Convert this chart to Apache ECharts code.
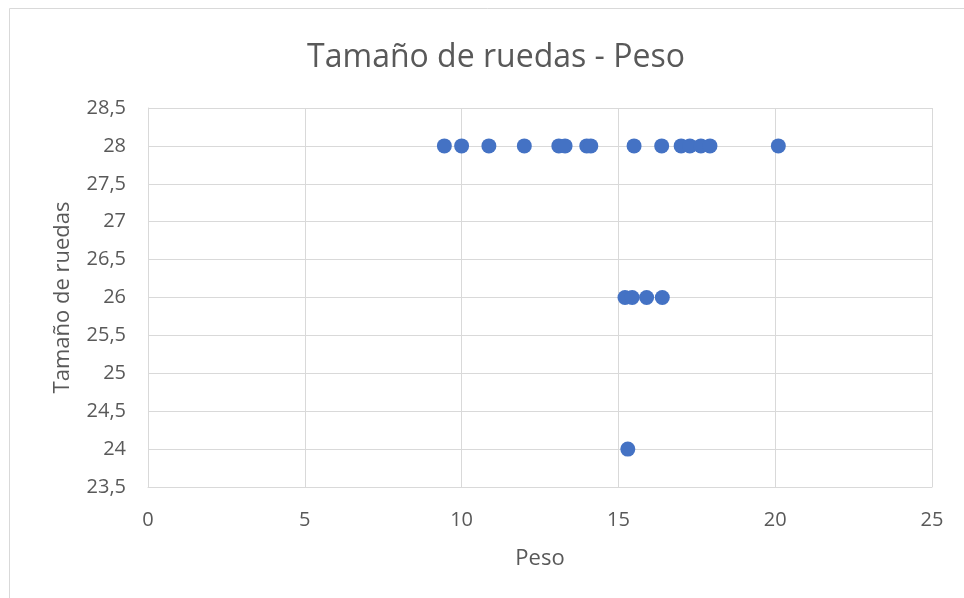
<!DOCTYPE html>
<html>
<head>
<meta charset="utf-8">
<script src="https://cdn.jsdelivr.net/npm/echarts@6/dist/echarts.min.js"></script>
<style>
  html, body { margin: 0; padding: 0; background: #ffffff; }
  #chart { width: 964px; height: 598px; }
</style>
</head>
<body>
<div id="chart"></div>
<script>
// Weight (Peso) and wheel size (Tamaño de ruedas) per bike
const peso = [
  9.45, 10.0, 10.87, 12.0, 13.1, 13.3, 13.99, 14.12, 15.5, 16.38, 17.0, 17.28, 17.63, 17.92, 20.1,
  15.21, 15.44, 15.9, 16.4,
  15.3
];
const ruedas = [
  28, 28, 28, 28, 28, 28, 28, 28, 28, 28, 28, 28, 28, 28, 28,
  26, 26, 26, 26,
  24
];
const titleText = 'Tamaño de ruedas - Peso';
const xName = 'Peso';
const yName = 'Tamaño de ruedas';

const points = peso.map((p, i) => [p, ruedas[i]]);

const textColor = '#595959';
const gridColor = '#d9d9d9';
const fontFam = '"Open Sans", "Noto Sans", sans-serif';

const chart = echarts.init(document.getElementById('chart'), null, { renderer: 'canvas' });
chart.setOption({
  backgroundColor: '#ffffff',
  animation: false,
  graphic: [{
    type: 'rect',
    shape: { x: 9.5, y: 8.5, width: 1000, height: 700 },
    style: { fill: 'none', stroke: gridColor, lineWidth: 1 },
    silent: true
  }],
  title: {
    text: titleText,
    left: 491,
    top: 37,
    textAlign: 'center',
    textStyle: { color: textColor, fontSize: 32, fontWeight: 'normal', fontFamily: fontFam }
  },
  grid: { left: 148, right: 32, top: 108, bottom: 111 },
  xAxis: {
    type: 'value',
    min: 0, max: 25, interval: 5,
    name: xName,
    nameLocation: 'middle',
    nameGap: 61,
    nameTextStyle: { color: textColor, fontSize: 22, fontFamily: fontFam },
    axisLine: { show: true, lineStyle: { color: gridColor, width: 1 } },
    axisTick: { show: false },
    splitLine: { show: true, lineStyle: { color: gridColor, width: 1 } },
    axisLabel: { color: textColor, fontSize: 20, fontFamily: fontFam, margin: 23 }
  },
  yAxis: {
    type: 'value',
    min: 23.5, max: 28.5, interval: 0.5,
    name: yName,
    nameLocation: 'middle',
    nameGap: 74,
    nameRotate: 90,
    nameTextStyle: { color: textColor, fontSize: 22, fontFamily: fontFam },
    axisLine: { show: true, lineStyle: { color: gridColor, width: 1 } },
    axisTick: { show: false },
    splitLine: { show: true, lineStyle: { color: gridColor, width: 1 } },
    axisLabel: {
      color: textColor, fontSize: 20, fontFamily: fontFam, margin: 22,
      formatter: v => String(v).replace('.', ',')
    }
  },
  series: [{
    type: 'scatter',
    data: points,
    symbol: 'circle',
    symbolSize: 15,
    itemStyle: { color: '#4472C4', opacity: 1 }
  }]
});
</script>
</body>
</html>
